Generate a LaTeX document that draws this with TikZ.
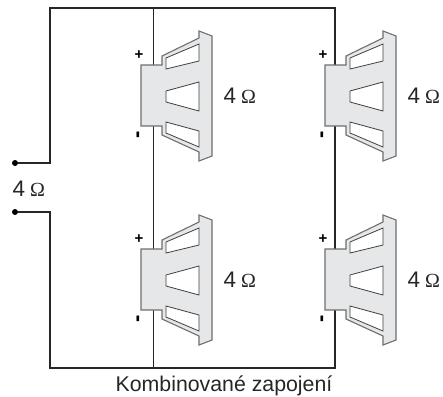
\documentclass[tikz,border=0pt]{standalone}
\usepackage{fontspec}
\setmainfont{Liberation Sans}
\newfontfamily\ohmfont{Liberation Serif}
\definecolor{conegray}{HTML}{E6E7E8}
\definecolor{edgegray}{HTML}{6D6E71}
\tikzset{
    wire/.style={black!85, line width=1.1pt},
    cone/.style={fill=conegray, draw=edgegray, line width=1.1pt, line join=miter},
    slot/.style={fill=white, draw=black!75, line width=0.8pt},
    ohm/.style={inner sep=0pt, font=\fontsize{22.5}{22.5}\selectfont, text=black!85},
    sign/.style={inner sep=0pt, font=\fontsize{15}{15}\selectfont\bfseries},
    minussign/.style={inner sep=0pt, font=\fontsize{22}{22}\selectfont\bfseries},
    terminal/.style={circle, fill=black, inner sep=0pt, minimum size=6pt}
}
\newcommand{\ohmtext}{4\hspace{5pt}{\ohmfont\fontsize{20}{20}\selectfont Ω}}
\begin{document}
\begin{tikzpicture}[x=1pt, y=-1pt]
    \useasboundingbox (0,0) rectangle (443,396);
    \node[terminal] (inA) at (15,163) {};
    \node[terminal] (inB) at (15,212) {};
    \coordinate (lefttop) at (50,8);
    \coordinate (leftmid) at (50,163);
    \coordinate (leftlow) at (50,212);
    \coordinate (leftbot) at (50,368);
    \coordinate (midtop) at (153.3,8);
    \coordinate (midbot) at (153.3,368);
    \coordinate (righttop) at (335,8);
    \coordinate (rightbot) at (335,368);
    \draw[wire] (inA) -- (leftmid) -- (lefttop) -- (righttop) -- (rightbot) -- (leftbot) -- (leftlow) -- (inB);
    \draw[wire] (midtop) -- (midbot);
    \node[ohm, anchor=base west] (rating) at (12.5,196) {\ohmtext};
    \foreach \x/\y in {0/0, 184/0, 0/184, 184/184}{
        \begin{scope}[shift={(\x,\y)}]
            \draw[cone] (141,65) -- (162,65) -- (162,56) -- (199,38) -- (199,31) -- (212,36)
                -- (212,156) -- (199,161) -- (199,152) -- (162,135) -- (162,126) -- (141,126) -- cycle;
            \draw[slot] (166,58) -- (199,44) -- (199,61) -- (166,69) -- cycle;
            \draw[slot] (166,91) -- (199,82) -- (199,111) -- (166,102) -- cycle;
            \draw[slot] (166,122) -- (199,131) -- (199,147) -- (166,133) -- cycle;
            \node[sign] at (139,55) {+};
            \node[minussign, rotate=90] at (140,135) {-};
            \node[ohm, anchor=base west] at (223.5,103) {\ohmtext};
        \end{scope}
    }
    \node[inner sep=0pt, anchor=base, font=\fontsize{21.3}{21.3}\selectfont, text=black!85] (caption) at (224,391) {Kombinované zapojení};
\end{tikzpicture}
\end{document}
